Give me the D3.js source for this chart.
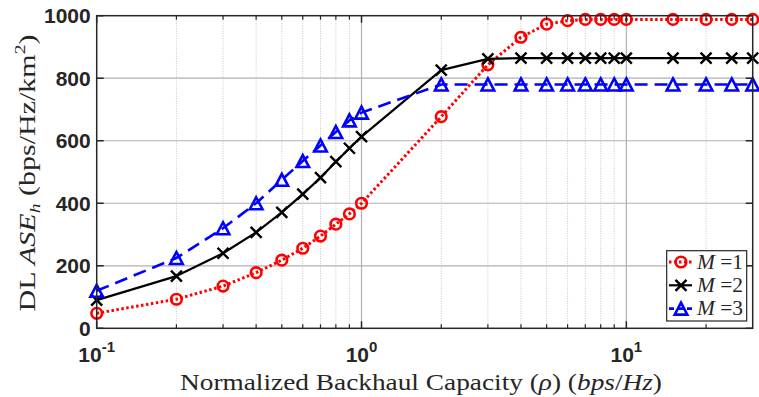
<!DOCTYPE html>
<html>
<head>
<meta charset="utf-8">
<script src="https://cdn.jsdelivr.net/npm/d3@7"></script>
<style>
  html, body { margin: 0; padding: 0; background: #fff; }
  svg { display: block; }
</style>
</head>
<body>
<svg id="chart" width="759" height="397"></svg>
<script>
// Backhaul capacity values (bps/Hz)
const rho = [0.1, 0.2, 0.3, 0.4, 0.5, 0.6, 0.7, 0.8, 0.9, 1, 2, 3, 4, 5, 6, 7, 8, 9, 10, 15, 20, 25, 30];
// DL area spectral efficiency per number of antennas M
const aseM1 = [48, 93, 135, 178, 218, 256, 295, 333, 366, 400, 677, 843, 931, 973, 984, 988, 988, 988, 988, 988, 988, 988, 988];
const aseM2 = [90, 167, 240, 307, 371, 429, 482, 533, 576, 613, 826, 862, 864, 864, 864, 864, 864, 864, 864, 864, 864, 864, 864];
const aseM3 = [120, 225, 320, 400, 475, 535, 585, 628, 665, 690, 780, 780, 780, 780, 780, 780, 780, 780, 780, 780, 780, 780, 780];
const yTicks = [0, 200, 400, 600, 800, 1000];
const xMajor = [0.1, 1, 10];
const xMajorExp = ["-1", "0", "1"];
const seriesNames = ["1", "2", "3"];

const svg = d3.select("#chart");
const L = 96.7, R = 752.7, T = 15.7, B = 328.3;
const x = d3.scaleLog().domain([0.1, 30]).range([L, R]);
const y = d3.scaleLinear().domain([0, 1000]).range([B, T]);

const axisColor = "#262626";
const tickFont = "'Liberation Sans', Arial, sans-serif";
const serif = "'Liberation Serif', 'Times New Roman', serif";

// minor x positions (2..9 per decade, up to 30)
const xMinor = [];
for (let d = 0.1; d < 30; d *= 10) {
  for (let k = 2; k <= 9; k++) {
    const v = +(d * k).toPrecision(3);
    if (v < 30) xMinor.push(v);
  }
}

const grid = svg.append("g");
// minor vertical grid (dotted)
grid.selectAll("line.minor").data(xMinor).join("line")
  .attr("x1", d => x(d)).attr("x2", d => x(d))
  .attr("y1", T).attr("y2", B)
  .attr("stroke", "#c4c4c4").attr("stroke-width", 1)
  .attr("stroke-dasharray", "1,1.5");
// major vertical grid
grid.selectAll("line.vmaj").data([1, 10]).join("line")
  .attr("x1", d => x(d)).attr("x2", d => x(d))
  .attr("y1", T).attr("y2", B)
  .attr("stroke", "#b0b0b0").attr("stroke-width", 1.2);
// horizontal grid
grid.selectAll("line.h").data(yTicks.filter(v => v > 0 && v < 1000)).join("line")
  .attr("x1", L).attr("x2", R)
  .attr("y1", d => y(d)).attr("y2", d => y(d))
  .attr("stroke", "#b0b0b0").attr("stroke-width", 1.2);

// series
const series = [
  { name: seriesNames[0], vals: aseM1, color: "#ff0000", dash: "2.5,2.5", width: 3, marker: "circle" },
  { name: seriesNames[1], vals: aseM2, color: "#000000", dash: null, width: 2.2, marker: "x" },
  { name: seriesNames[2], vals: aseM3, color: "#0000ff", dash: "13,7", width: 2.6, marker: "tri" }
];

function drawMarker(g, type, cx, cy, color) {
  if (type === "circle") {
    g.append("circle").attr("cx", cx).attr("cy", cy).attr("r", 5.3)
      .attr("fill", "none").attr("stroke", color).attr("stroke-width", 2.6);
  } else if (type === "x") {
    const s = 5.5;
    g.append("path")
      .attr("d", `M${cx - s},${cy - s}L${cx + s},${cy + s}M${cx - s},${cy + s}L${cx + s},${cy - s}`)
      .attr("stroke", color).attr("stroke-width", 2.4).attr("fill", "none");
  } else {
    const w = 6.3, h = 6;
    g.append("path")
      .attr("d", `M${cx},${cy - h}L${cx + w},${cy + h}L${cx - w},${cy + h}Z`)
      .attr("stroke", color).attr("stroke-width", 2.6).attr("fill", "none")
      .attr("stroke-linejoin", "miter");
  }
}

const line = d3.line().x(d => x(d[0])).y(d => y(d[1]));
const plot = svg.append("g");
series.forEach(s => {
  const pts = rho.map((r, i) => [r, s.vals[i]]);
  const g = plot.append("g");
  g.append("path").datum(pts).attr("d", line)
    .attr("fill", "none").attr("stroke", s.color).attr("stroke-width", s.width)
    .attr("stroke-dasharray", s.dash).attr("stroke-linejoin", "round");
  pts.forEach(p => drawMarker(g, s.marker, x(p[0]), y(p[1]), s.color));
});

// axes box
const ax = svg.append("g");
ax.append("rect").attr("x", L).attr("y", T).attr("width", R - L).attr("height", B - T)
  .attr("fill", "none").attr("stroke", axisColor).attr("stroke-width", 1.5);

// y ticks (left and right, inward)
yTicks.forEach(v => {
  ax.append("line").attr("x1", L).attr("x2", L + 7).attr("y1", y(v)).attr("y2", y(v))
    .attr("stroke", axisColor).attr("stroke-width", 1.5);
  ax.append("line").attr("x1", R).attr("x2", R - 7).attr("y1", y(v)).attr("y2", y(v))
    .attr("stroke", axisColor).attr("stroke-width", 1.5);
  ax.append("text").attr("x", L - 6).attr("y", y(v) + 7.5)
    .attr("text-anchor", "end").attr("font-family", tickFont).attr("font-weight", "bold")
    .attr("font-size", 21).attr("fill", axisColor).text(v);
});

// x ticks (bottom and top, inward)
xMajor.forEach(v => {
  ax.append("line").attr("x1", x(v)).attr("x2", x(v)).attr("y1", B).attr("y2", B - 7)
    .attr("stroke", axisColor).attr("stroke-width", 1.5);
  ax.append("line").attr("x1", x(v)).attr("x2", x(v)).attr("y1", T).attr("y2", T + 7)
    .attr("stroke", axisColor).attr("stroke-width", 1.5);
});
xMinor.forEach(v => {
  ax.append("line").attr("x1", x(v)).attr("x2", x(v)).attr("y1", B).attr("y2", B - 4)
    .attr("stroke", axisColor).attr("stroke-width", 1.2);
  ax.append("line").attr("x1", x(v)).attr("x2", x(v)).attr("y1", T).attr("y2", T + 4)
    .attr("stroke", axisColor).attr("stroke-width", 1.2);
});
xMajor.forEach((v, i) => {
  const t = ax.append("text").attr("x", x(v)).attr("y", 362)
    .attr("text-anchor", "middle").attr("font-family", tickFont).attr("font-weight", "bold")
    .attr("font-size", 21).attr("fill", axisColor);
  t.append("tspan").text("10");
  t.append("tspan").attr("font-size", 15).attr("dy", -10).text(xMajorExp[i]);
});

// axis titles
const xt = svg.append("text").attr("x", 421).attr("y", 390)
  .attr("text-anchor", "middle").attr("font-family", serif).attr("font-size", 23).attr("fill", "#262626")
  .attr("textLength", 482).attr("lengthAdjust", "spacingAndGlyphs");
xt.append("tspan").text("Normalized Backhaul Capacity (");
xt.append("tspan").attr("font-style", "italic").text("ρ");
xt.append("tspan").text(") (");
xt.append("tspan").attr("font-style", "italic").text("bps");
xt.append("tspan").text("/");
xt.append("tspan").attr("font-style", "italic").text("Hz");
xt.append("tspan").text(")");

const yt = svg.append("text").attr("transform", `translate(35,${(T + B) / 2 + 1}) rotate(-90)`)
  .attr("text-anchor", "middle").attr("font-family", serif).attr("font-size", 23).attr("fill", "#262626")
  .attr("textLength", 277).attr("lengthAdjust", "spacingAndGlyphs");
yt.append("tspan").text("DL ");
yt.append("tspan").attr("font-style", "italic").text("ASE");
yt.append("tspan").attr("font-style", "italic").attr("font-size", 15).attr("dy", 5).text("h");
yt.append("tspan").attr("dy", -5).text(" (bps/Hz/km");
yt.append("tspan").attr("font-size", 15).attr("dy", -10).text("2");
yt.append("tspan").attr("dy", 10).text(")");

// legend
const lg = svg.append("g");
lg.append("rect").attr("x", 666.7).attr("y", 250.7).attr("width", 80).attr("height", 70.3)
  .attr("fill", "#fff").attr("stroke", axisColor).attr("stroke-width", 1.2);
series.forEach((s, i) => {
  const cy = 262 + i * 23.3;
  lg.append("line").attr("x1", 669).attr("x2", 692).attr("y1", cy).attr("y2", cy)
    .attr("stroke", s.color).attr("stroke-width", s.width)
    .attr("stroke-dasharray", s.dash ? (s.marker === "tri" ? "5,4" : s.dash) : null);
  drawMarker(lg, s.marker, 681, cy, s.color);
  const t = lg.append("text").attr("x", 697).attr("y", cy + 6.5)
    .attr("font-family", serif).attr("font-size", 20).attr("fill", "#262626")
    .attr("textLength", 46).attr("lengthAdjust", "spacingAndGlyphs");
  t.append("tspan").attr("font-style", "italic").text("M");
  t.append("tspan").text(" =" + s.name);
});
</script>
</body>
</html>
